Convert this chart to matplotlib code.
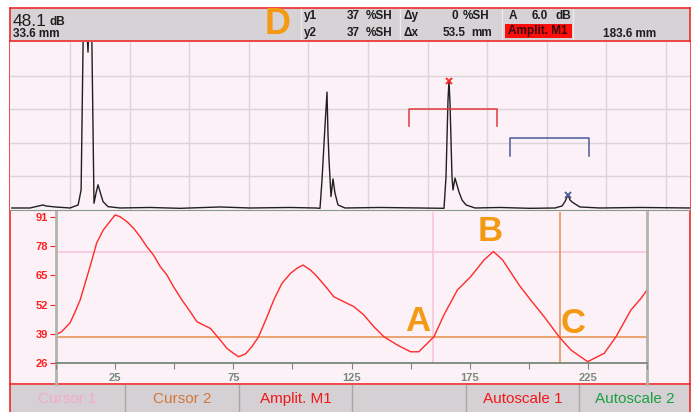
import matplotlib
matplotlib.use("Agg")
import matplotlib.pyplot as plt
import matplotlib.patches as mpatches
import numpy as np

plt.rcParams['font.family'] = ['Liberation Sans', 'DejaVu Sans']

# ---- data ----
# upper A-scan trace (mm, %SH)
ascan_x = [0.5, 5.4, 8.9, 9.7, 12.2, 16.2, 18.4, 19.2, 19.98, 21.06, 21.87, 22.68, 23.22, 23.76, 24.3,
           25.11, 26.46, 29.7, 37.8, 45.9, 56.7, 64.8, 75.6, 82.35, 83.7, 84.24, 85.05, 85.59, 85.86, 86.13,
           86.67, 87.21, 87.75, 88.56, 90.45, 100.0, 110.7, 117.18, 117.72, 118.26, 118.53, 118.8, 119.34, 119.61, 120.15,
           120.69, 121.23, 122.04, 123.12, 125.55, 132.3, 140.4, 147.15, 149.04, 149.85, 150.66, 151.2, 151.74, 152.55, 153.9,
           159.3, 170.1, 183.6]
ascan_y = [1.2, 1.2, 3.0, 2.4, 1.8, 1.2, 3.0, 12.0, 140, 94, 140, 4.0, 10.0, 15.0, 11.0,
           5.0, 2.0, 1.2, 1.5, 1.0, 1.8, 1.2, 1.5, 1.2, 1.0, 17.9, 50.0, 70.2, 45.0, 30.0,
           8.0, 18.5, 10.0, 3.0, 1.2, 1.5, 1.2, 1.0, 19.6, 65.5, 77.0, 63.7, 19.6, 11.9, 19.0,
           14.9, 10.7, 6.0, 3.0, 1.2, 1.5, 1.0, 1.2, 2.4, 5.0, 9.0, 6.0, 4.8, 3.6, 1.8,
           1.2, 1.5, 1.2]
gate1 = (107.8, 131.6, 60.1, 50.0)   # start, end, level, leg end
gate2 = (134.9, 156.2, 42.9, 32.1)
m1 = (118.53, 77.0)
m2 = (150.66, 9.0)

# lower echo-dynamic curve
scan_x = [0, 2.4, 5.9, 8.1, 10.2, 14.4, 17.2, 20.0, 25.0, 27.1, 30.0, 32.8, 35.6, 38.4, 41.2,
          44.1, 46.9, 49.7, 53.3, 56.8, 59.6, 61.0, 65.3, 69.5, 72.3, 75.1, 77.2, 80.1, 82.9, 85.7,
          89.3, 92.1, 95.6, 99.2, 102.0, 104.5, 107.6, 110.5, 114.7, 117.5, 121.7, 126.0, 130.2, 134.4, 138.7,
          144.4, 150.0, 153.5, 157.1, 159.9, 164.1, 169.8, 175.4, 181.1, 185.0, 188.9, 195.9, 200.8, 206.5, 212.8,
          217.8, 224.9, 231.9, 236.9, 243.2, 247.5, 250.0]
scan_y = [38.5, 40.0, 43.8, 48.8, 54.0, 68.9, 79.4, 85.2, 91.9, 91.1, 88.9, 86.0, 82.2, 77.8, 74.1,
          68.9, 65.2, 60.0, 54.0, 48.8, 44.4, 43.6, 41.4, 36.2, 32.5, 30.3, 28.8, 30.0, 33.3, 37.7,
          46.6, 54.0, 61.5, 65.9, 68.2, 69.6, 67.4, 64.4, 59.2, 55.5, 53.3, 51.1, 47.4, 42.2, 37.7,
          34.0, 31.0, 31.0, 34.8, 37.7, 47.4, 58.5, 64.4, 71.9, 75.6, 71.9, 60.7, 54.0, 46.6, 37.7,
          31.8, 26.6, 30.3, 37.7, 49.6, 54.8, 58.5]
y_ticks = [26, 39, 52, 65, 78, 91]
x_ticks = [0, 25, 50, 75, 100, 125, 150, 175, 200, 225, 250]
x_labels = ['', '25', '', '75', '', '125', '', '175', '', '225', '']
cursor1 = (159.3, 75.4)
cursor2 = (213.1, 37.6)
letters = [('A', 153, 44.3), ('B', 183.5, 84.3), ('C', 218.6, 43.8)]
buttons = ['Cursor 1', 'Cursor 2', 'Amplit. M1', '', 'Autoscale 1', 'Autoscale 2']
button_colors = ['#f8a8cc', '#d2783a', '#f01818', '#000000', '#f01818', '#1ca040']

# ---- layout ----
W, H = 699, 412
fig = plt.figure(figsize=(W / 100, H / 100), dpi=100)


def rect(x0, y0, x1, y1):
    return [x0 / W, 1 - y1 / H, (x1 - x0) / W, (y1 - y0) / H]


bg = fig.add_axes([0, 0, 1, 1])
bg.set_xlim(0, W)
bg.set_ylim(H, 0)
bg.axis('off')

pink = '#fbf1f6'
red = '#ee2a2a'
bg.add_patch(mpatches.Rectangle((10, 8), 680, 33, color='#d6d2d6', lw=0))
bg.add_patch(mpatches.Rectangle((10, 41), 680, 343, color=pink, lw=0))
bg.add_patch(mpatches.Rectangle((10, 385), 680, 27, color='#d4d0d4', lw=0))
for xx in [301, 400, 502, 573]:
    bg.plot([xx, xx], [9, 40], color='#ece8ec', lw=1)
for xx in [125, 239, 352, 466, 579]:
    bg.plot([xx, xx], [385, 412], color='#a8aaa0', lw=1)
for yy in [8, 41, 384]:
    bg.plot([10, 690], [yy, yy], color=red, lw=1.2)
bg.plot([10, 10], [8, 412], color=red, lw=1.2)
bg.plot([690, 690], [8, 412], color=red, lw=1.2)
for xx in [56, 647]:
    bg.plot([xx, xx], [363, 384], color='#b0b4ac', lw=2)

# header
dark = '#1e1e1e'
fs = 8.5
bg.text(13, 21, '48.1', fontsize=12.5, color=dark, va='center')
bg.text(50, 22, 'dB', fontsize=fs, weight='bold', color=dark, va='center')
bg.text(13, 34, '33.6 mm', fontsize=fs, weight='bold', color=dark, va='center')
bg.text(278, 24, 'D', fontsize=26, weight='bold', color='#f39a12', ha='center', va='center')
hd = dict(fontsize=fs, weight='bold', color=dark, va='center')
bg.text(304, 16, 'y1', **hd)
bg.text(304, 33, 'y2', **hd)
bg.text(360, 16, '37', ha='right', **hd)
bg.text(360, 33, '37', ha='right', **hd)
bg.text(366, 16, '%SH', **hd)
bg.text(366, 33, '%SH', **hd)
bg.text(404, 16, '\u0394y', **hd)
bg.text(404, 33, '\u0394x', **hd)
bg.text(458, 16, '0', ha='right', **hd)
bg.text(463, 16, '%SH', **hd)
bg.text(466, 33, '53.5', ha='right', **hd)
bg.text(471, 33, 'mm', **hd)
bg.text(509, 16, 'A', **hd)
bg.text(548, 16, '6.0', ha='right', **hd)
bg.text(555, 16, 'dB', **hd)
bg.add_patch(mpatches.Rectangle((505, 24), 67, 14, color='#ff0c0c', lw=0))
bg.text(538, 31, 'Amplit. M1', fontsize=fs, weight='bold', color='#3a0a0a', ha='center', va='center')
bg.text(630, 34, '183.6 mm', fontsize=fs, weight='bold', color=dark, ha='center', va='center')

# bottom buttons
edges = [10, 125, 239, 352, 466, 579, 690]
for i, lab in enumerate(buttons):
    cx = (edges[i] + edges[i + 1]) / 2
    bg.text(cx, 399, lab, fontsize=11, color=button_colors[i], ha='center', va='center')

# ---- upper A-scan ----
ax1 = fig.add_axes(rect(10, 42, 690, 210))
ax1.set_facecolor(pink)
ax1.set_xlim(0, 183.6)
ax1.set_ylim(0, 100)
ax1.set_xticks(np.arange(16.2, 183, 16.09))
ax1.set_yticks([20, 40, 60, 80])
ax1.grid(True, color='#dcd4d8', lw=1)
ax1.tick_params(length=0, labelbottom=False, labelleft=False)
for s in ['top', 'left', 'right']:
    ax1.spines[s].set_visible(False)
ax1.spines['bottom'].set_color('#8a9a8a')
ax1.plot(ascan_x, ascan_y, color='#202020', lw=1)
g1x = [gate1[0], gate1[0], gate1[1], gate1[1]]
g1y = [gate1[3], gate1[2], gate1[2], gate1[3]]
ax1.plot(g1x, g1y, color='#e03a3a', lw=1.1)
g2x = [gate2[0], gate2[0], gate2[1], gate2[1]]
g2y = [gate2[3], gate2[2], gate2[2], gate2[3]]
ax1.plot(g2x, g2y, color='#4a5a9a', lw=1.1)
ax1.plot(*m1, marker='x', color='#ff2020', ms=5, mew=1.3)
ax1.plot(*m2, marker='x', color='#4a5a9a', ms=5, mew=1.3)

rt = dict(fontsize=fs, weight='bold', va='center')
bg.text(594, 49, 'Amplit. M1', color='#ff1a1a', **rt)
bg.text(622, 63, '78  %SH', color='#ff1a1a', **rt)
bg.text(598, 77, 'Depth M1', color='#ff1a1a', **rt)
bg.text(607, 91, '144.2  mm', color='#ff1a1a', **rt)
bg.text(597, 104, 'Ampl. M2', color='#6a7094', **rt)
bg.text(622, 118, '10  %SH', color='#6a7094', **rt)
bg.text(598, 132, 'Depth M2', color='#6a7094', **rt)
bg.text(608, 147, '174.1  mm', color='#6a7094', **rt)

# ---- lower echo-dynamic ----
ax2 = fig.add_axes(rect(56, 212, 647, 363))
ax2.set_facecolor(pink)
ax2.set_xlim(0, 250)
ax2.set_ylim(26, 93.2)
ax2.spines['top'].set_visible(False)
for s in ['left', 'right']:
    ax2.spines[s].set_color('#b0b4ac')
    ax2.spines[s].set_linewidth(2)
ax2.spines['bottom'].set_color('#6e7e6e')
ax2.spines['bottom'].set_linewidth(1.2)
ax2.set_yticks(y_ticks)
ax2.set_yticklabels([str(v) for v in y_ticks], fontsize=8, weight='bold')
ax2.tick_params(axis='y', colors='#ff2020', length=4, pad=2)
ax2.set_xticks(x_ticks)
ax2.set_xticklabels(x_labels, fontsize=8, weight='bold')
ax2.tick_params(axis='x', colors='#7a8a7a', length=4, pad=3)

ax2.axhline(cursor1[1], color='#f8c4dc', lw=1.2)
ax2.axvline(cursor1[0], color='#f8c4dc', lw=1.2)
ax2.axhline(cursor2[1], color='#e8955a', lw=1.2)
ax2.axvline(cursor2[0], color='#e8955a', lw=1.2)
ax2.plot(scan_x, scan_y, color='#ff2a2a', lw=1)
for t, lx, ly in letters:
    ax2.text(lx, ly, t, fontsize=25, weight='bold', color='#f39a12', ha='center', va='center')

fig.savefig('out.png', dpi=100)
